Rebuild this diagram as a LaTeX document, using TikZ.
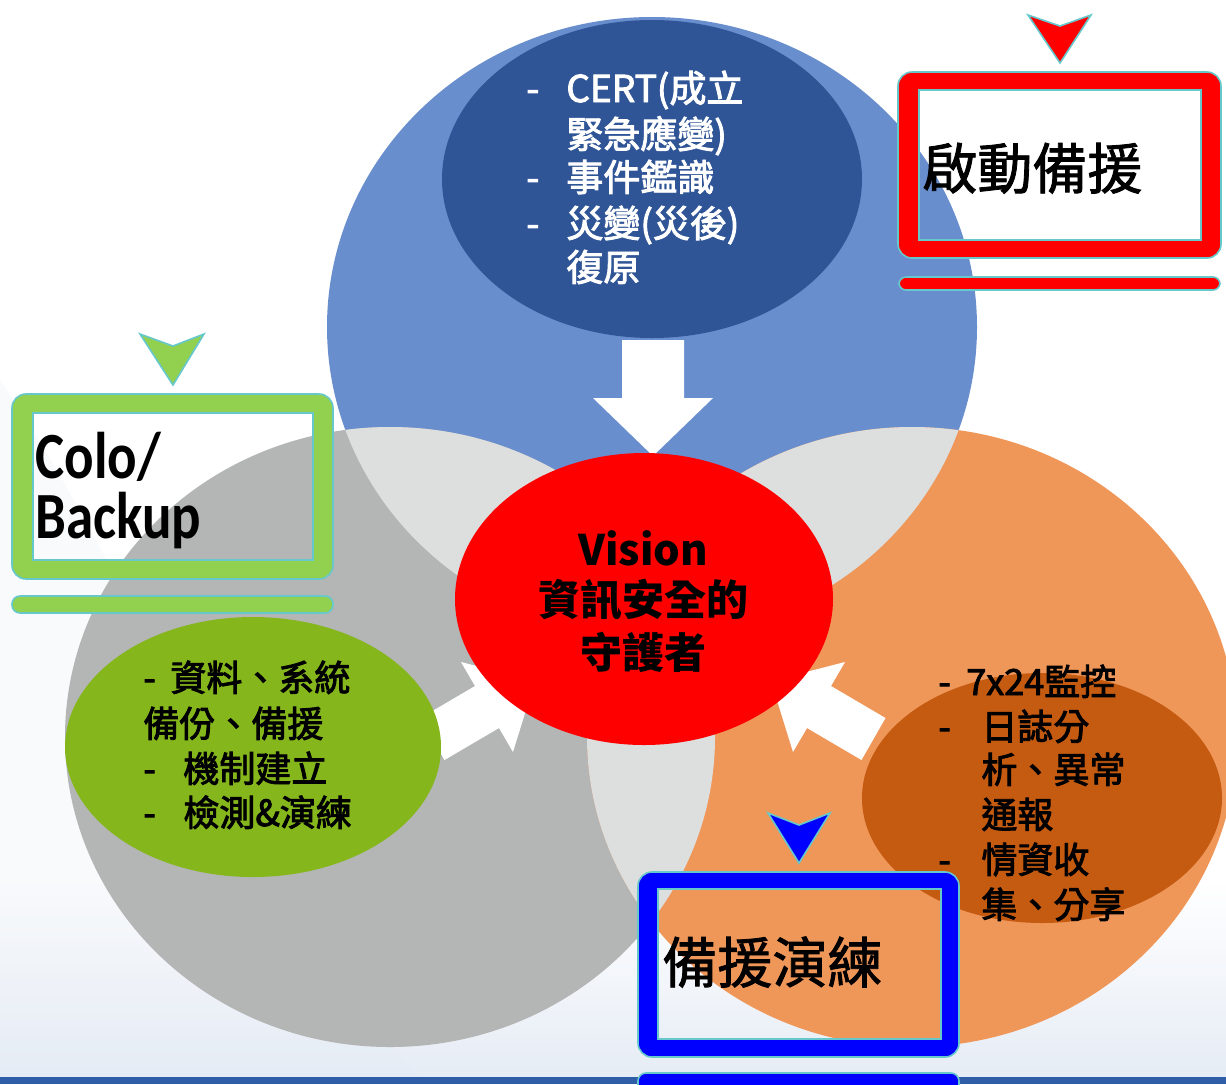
\documentclass[tikz,border=0pt]{standalone}
\usepackage{fontspec}
\usepackage{graphicx}
\setmainfont{Noto Sans CJK TC}
\newfontfamily\cjkf{Noto Sans CJK TC}
\newfontfamily\cjkm[FakeBold=2.5]{Noto Sans CJK TC}
\newfontfamily\cjkl[FakeBold=1.5]{Noto Sans CJK TC}
\newfontfamily\calibf{Carlito}
\newcommand\lstdash[1]{\makebox[#1][l]{-}}
\definecolor{cblue}{HTML}{698ECE}
\definecolor{dblue}{HTML}{2F5597}
\definecolor{cgray}{HTML}{B4B5B5}
\definecolor{lgray}{HTML}{DDDEDE}
\definecolor{corange}{HTML}{EF9659}
\definecolor{dorange}{HTML}{C55A11}
\definecolor{cgreen}{HTML}{85B61C}
\definecolor{bxred}{HTML}{FF0000}
\definecolor{bxgreen}{HTML}{92D050}
\definecolor{bxblue}{HTML}{0000FF}
\definecolor{tealc}{HTML}{66C8CB}
\definecolor{barblue}{HTML}{2F5DA8}
\definecolor{bgb}{HTML}{E6ECF5}
\tikzset{
  lstw/.style={anchor=base west, inner sep=0pt, text=white, font=\cjkm\fontsize{18.5pt}{22pt}\selectfont},
  lstk/.style={anchor=base west, inner sep=0pt, text=black, font=\cjkm\fontsize{18pt}{22pt}\selectfont},
  vis/.style={anchor=base, inner sep=0pt, text=black, font=\cjkf\bfseries\fontsize{21pt}{25pt}\selectfont},
  boxlbl/.style={anchor=base west, inner sep=0pt, text=black, font=\cjkl\fontsize{27.5pt}{30pt}\selectfont},
  colo/.style={anchor=base west, inner sep=0pt, text=black, font=\calibf\bfseries\fontsize{27.5pt}{30pt}\selectfont},
  wharrow/.style={fill=white},
  tealline/.style={draw=tealc, line width=0.8pt},
}
\begin{document}
\begin{tikzpicture}[x=0.5pt,y=-0.5pt]
\clip (0,0) rectangle (1226,1084);
\fill[white] (0,0) rectangle (1226,1084);
% subtle background
\shade[top color=white, bottom color=bgb] (0,880) rectangle (1226,1077);
\fill[bgb, opacity=0.25] (0,380) .. controls (150,600) and (250,900) .. (420,1077) -- (0,1077) -- cycle;
\fill[barblue] (0,1077) rectangle (1226,1084);
% circles
\fill[cblue] (652,327) ellipse [x radius=325, y radius=310];
\fill[cgray] (390,737) ellipse [x radius=325, y radius=310];
\fill[corange] (912,737) ellipse [x radius=325, y radius=310];
\begin{scope}
  \clip (652,327) ellipse [x radius=325, y radius=310];
  \fill[lgray] (390,737) ellipse [x radius=325, y radius=310];
  \fill[lgray] (912,737) ellipse [x radius=325, y radius=310];
\end{scope}
\begin{scope}
  \clip (390,737) ellipse [x radius=325, y radius=310];
  \fill[lgray] (912,737) ellipse [x radius=325, y radius=310];
\end{scope}
% white arrows
\fill[wharrow] (622,340) -- (684,340) -- (684,398) -- (713,398) -- (653,456) -- (593,398) -- (622,398) -- cycle;
\fill[wharrow] (771,681) -- (845,662) -- (831,686) -- (885.5,718) -- (861.5,760) -- (807,728) -- (793,752) -- cycle;
\fill[wharrow] (535,681) -- (461,662) -- (475,686) -- (420.5,718) -- (444.5,760) -- (499,728) -- (513,752) -- cycle;
% inner ellipses
\fill[dblue] (652,179) ellipse [x radius=210, y radius=159];
\fill[cgreen] (253,747) ellipse [x radius=188, y radius=130];
\fill[dorange] (1042,798) ellipse [x radius=180, y radius=125];
\fill[bxred] (644,599) ellipse [x radius=189, y radius=146];
% list texts
\node[lstw] (c1) at (526,102) {\lstdash{20pt}CERT(成立};
\node[lstw] (c2) at (566,148) {緊急應變)};
\node[lstw] (c3) at (526,191) {\lstdash{20pt}事件鑑識};
\node[lstw] (c4) at (526,237) {\lstdash{20pt}災變(災後)};
\node[lstw] (c5) at (566,281) {復原};
\node[lstk] (g1) at (143,691) {\lstdash{13.5pt}資料、系統};
\node[lstk] (g2) at (143,737) {備份、備援};
\node[lstk] (g3) at (143,782) {\lstdash{20pt}機制建立};
\node[lstk] (g4) at (143,826) {\lstdash{20pt}檢測\&演練};
\node[lstk] (o1) at (938,695) {\lstdash{14pt}7x24監控};
\node[lstk] (o2) at (938,740) {\lstdash{21.5pt}日誌分};
\node[lstk] (o3) at (981,783) {析、異常};
\node[lstk] (o4) at (981,828) {通報};
\node[lstk] (o5) at (938,873) {\lstdash{21.5pt}情資收};
\node[lstk] (o6) at (981,918) {集、分享};
\node[vis] (v1) at (643,565) {Vision};
\node[vis] (v2) at (643,615) {資訊安全的};
\node[vis] (v3) at (643,668) {守護者};
% red box
\path[fill=bxred, tealline] (1028,15) -- (1060,26) -- (1091,15) -- (1060,63) -- cycle;
\path[fill=bxred, tealline, even odd rule] [rounded corners=7pt] (898,72) rectangle (1221,258) [sharp corners] (919,90) rectangle (1201,240);
\path[fill=bxred, tealline, rounded corners=3.5pt] (899,277) rectangle (1220,290);
\node[boxlbl] (t1) at (922,189) {啟動備援};
% green box
\path[fill=bxgreen, tealline] (140,334) -- (173,346) -- (204,334) -- (173,385) -- cycle;
\path[fill=bxgreen, tealline, even odd rule] [rounded corners=7pt] (12,394) rectangle (333,579) [sharp corners] (33,413) rectangle (313,560);
\path[fill=bxgreen, tealline, rounded corners=4pt] (12,596) rectangle (333,613);
\node[colo] (t2a) at (35,478) {\scalebox{1}[1.2]{Colo/}};
\node[colo] (t2b) at (35,538) {\scalebox{1}[1.2]{Backup}};
% blue box
\path[fill=bxblue, tealline] (768,813) -- (799,825) -- (830,813) -- (799,863) -- cycle;
\path[fill=bxblue, tealline, even odd rule] [rounded corners=7pt] (638,872) rectangle (959,1057) [sharp corners] (658,889) rectangle (941,1039);
\path[fill=bxblue, tealline, rounded corners=4pt] (638,1073) rectangle (959,1096);
\node[boxlbl] (t3) at (662,983) {備援演練};
\end{tikzpicture}
\end{document}
